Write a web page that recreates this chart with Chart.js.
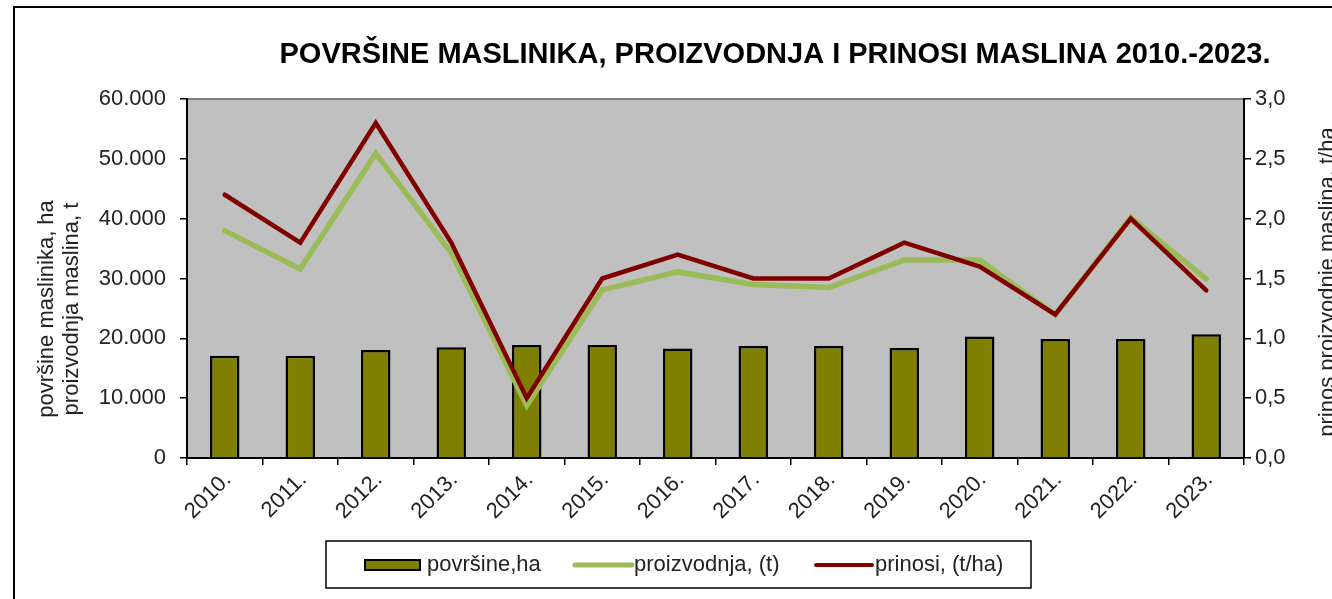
<!DOCTYPE html>
<html>
<head>
<meta charset="utf-8">
<script src="https://cdn.jsdelivr.net/npm/chart.js@4"></script>
<style>
    html, body { margin: 0; padding: 0; background: #fff; }
    #wrap { width: 1332px; height: 599px; }
</style>
</head>
<body>
<div id="wrap"><canvas id="olivesChart" width="1332" height="599"></canvas></div>
<script>
// Olive groves, production and yields 2010-2023

const years = ['2010.', '2011.', '2012.', '2013.', '2014.', '2015.', '2016.',
    '2017.', '2018.', '2019.', '2020.', '2021.', '2022.', '2023.'];

// površine, ha (left axis)
const povrsine = [17100, 17100, 18050, 18500, 18900, 18900, 18300,
    18700, 18700, 18400, 20300, 19900, 19900, 20700];

// proizvodnja, t (left axis)
const proizvodnja = [38000, 31600, 50900, 34300, 8800, 28100, 31100,
    29000, 28500, 33100, 33100, 23900, 40200, 29900];

// prinosi, t/ha (right axis)
const prinosi = [2.2, 1.8, 2.8, 1.8, 0.5, 1.5, 1.7,
    1.5, 1.5, 1.8, 1.6, 1.2, 2.0, 1.4];

const chartTitle = 'POVRŠINE MASLINIKA, PROIZVODNJA I PRINOSI MASLINA 2010.-2023.';
const leftTitle = ['površine maslinika, ha', 'proizvodnja maslina, t'];
const rightTitle = 'prinos proizvodnje maslina, t/ha';
const legendLabels = ['površine,ha', 'proizvodnja, (t)', 'prinosi, (t/ha)'];

const FONT = '"Liberation Sans", Arial, sans-serif';

function formatThousands(value) {
    if (value === 0) return '0';
    return (value / 1000).toFixed(0) + '.000';
}

// Grey plot area, outer frame, title, axis titles and the boxed legend
const frame = {
    id: 'frame',
    beforeDraw(chart) {
        const ctx = chart.ctx;
        const a = chart.chartArea;
        ctx.save();
        ctx.fillStyle = '#c0c0c0';
        ctx.fillRect(a.left, a.top, a.right - a.left, a.bottom - a.top);
        ctx.strokeStyle = '#808080';
        ctx.lineWidth = 2;
        ctx.beginPath();
        ctx.moveTo(a.left, a.top);
        ctx.lineTo(a.right, a.top);
        ctx.stroke();
        ctx.restore();
    },
    afterDraw(chart) {
        const ctx = chart.ctx;
        ctx.save();

        // outer frame (right and bottom edges fall outside the picture)
        ctx.strokeStyle = '#000';
        ctx.lineWidth = 2;
        ctx.strokeRect(14, 7, 1400, 700);

        // title
        ctx.fillStyle = '#000';
        ctx.font = 'bold 29px ' + FONT;
        ctx.textAlign = 'center';
        ctx.textBaseline = 'alphabetic';
        ctx.fillText(chartTitle, 775, 63);

        // axis titles
        ctx.fillStyle = '#222';
        ctx.font = '22px ' + FONT;
        ctx.save();
        ctx.translate(53, 309);
        ctx.rotate(-Math.PI / 2);
        ctx.fillText(leftTitle[0], 0, 0);
        ctx.fillText(leftTitle[1], 0, 25);
        ctx.restore();

        ctx.save();
        ctx.translate(1334, 282);
        ctx.rotate(-Math.PI / 2);
        ctx.fillText(rightTitle, 0, 0);
        ctx.restore();

        // legend
        ctx.strokeStyle = '#000';
        ctx.lineWidth = 1.5;
        ctx.strokeRect(326, 541, 705, 47);

        const ds = chart.data.datasets;
        const midY = 565;

        ctx.fillStyle = ds[0].backgroundColor;
        ctx.fillRect(365, midY - 5, 55, 10);
        ctx.lineWidth = 2;
        ctx.strokeRect(365, midY - 5, 55, 10);

        ctx.lineCap = 'round';
        ctx.strokeStyle = ds[1].borderColor;
        ctx.lineWidth = 5;
        ctx.beginPath();
        ctx.moveTo(575, midY);
        ctx.lineTo(632, midY);
        ctx.stroke();

        ctx.strokeStyle = ds[2].borderColor;
        ctx.lineWidth = 4;
        ctx.beginPath();
        ctx.moveTo(816, midY);
        ctx.lineTo(872, midY);
        ctx.stroke();

        ctx.fillStyle = '#222';
        ctx.font = '22px ' + FONT;
        ctx.textAlign = 'left';
        ctx.textBaseline = 'middle';
        ctx.fillText(legendLabels[0], 427, midY);
        ctx.fillText(legendLabels[1], 634, midY);
        ctx.fillText(legendLabels[2], 875, midY);

        ctx.restore();
    }
};

function buildChart() {
    const ctx = document.getElementById('olivesChart').getContext('2d');

    new Chart(ctx, {
        type: 'bar',
        data: {
            labels: years,
            datasets: [{
                type: 'bar',
                label: legendLabels[0],
                data: povrsine,
                yAxisID: 'y',
                backgroundColor: '#808000',
                borderColor: '#000',
                borderWidth: 2.5,
                barPercentage: 0.39,
                categoryPercentage: 1,
                order: 3
            }, {
                type: 'line',
                label: legendLabels[1],
                data: proizvodnja,
                yAxisID: 'y',
                borderColor: '#9bbb59',
                backgroundColor: '#9bbb59',
                borderWidth: 5.5,
                borderCapStyle: 'round',
                pointRadius: 0,
                tension: 0,
                order: 2
            }, {
                type: 'line',
                label: legendLabels[2],
                data: prinosi,
                yAxisID: 'y1',
                borderColor: '#800000',
                backgroundColor: '#800000',
                borderWidth: 4.5,
                borderCapStyle: 'round',
                pointRadius: 0,
                tension: 0,
                order: 1
            }]
        },
        options: {
            responsive: false,
            animation: false,
            layout: {
                padding: { top: 99, left: 0, right: 0, bottom: 0 }
            },
            plugins: {
                legend: { display: false },
                title: { display: false },
                tooltip: { enabled: false }
            },
            scales: {
                x: {
                    afterFit: scale => { scale.height = 141; },
                    border: { display: true, color: '#000', width: 2 },
                    grid: {
                        display: true,
                        drawOnChartArea: false,
                        drawTicks: true,
                        tickLength: 7,
                        color: '#000',
                        lineWidth: 1.5
                    },
                    ticks: {
                        color: '#222',
                        font: { family: FONT, size: 22 },
                        minRotation: 45,
                        maxRotation: 45,
                        labelOffset: 3,
                        padding: 2
                    }
                },
                y: {
                    position: 'left',
                    min: 0,
                    max: 60000,
                    afterFit: scale => { scale.width = 187; },
                    border: { display: true, color: '#000', width: 2 },
                    grid: {
                        display: true,
                        drawOnChartArea: false,
                        drawTicks: true,
                        tickLength: 7,
                        color: '#000',
                        lineWidth: 1.5
                    },
                    ticks: {
                        stepSize: 10000,
                        color: '#222',
                        font: { family: FONT, size: 22 },
                        padding: 14,
                        callback: value => formatThousands(value)
                    }
                },
                y1: {
                    position: 'right',
                    min: 0,
                    max: 3,
                    afterFit: scale => { scale.width = 88; },
                    border: { display: true, color: '#000', width: 2 },
                    grid: {
                        display: true,
                        drawOnChartArea: false,
                        drawTicks: true,
                        tickLength: 7,
                        color: '#000',
                        lineWidth: 1.5
                    },
                    ticks: {
                        stepSize: 0.5,
                        color: '#222',
                        font: { family: FONT, size: 22 },
                        padding: 4,
                        callback: value => value.toFixed(1).replace('.', ',')
                    }
                }
            }
        },
        plugins: [frame]
    });
}

document.addEventListener('DOMContentLoaded', buildChart);
</script>
</body>
</html>
